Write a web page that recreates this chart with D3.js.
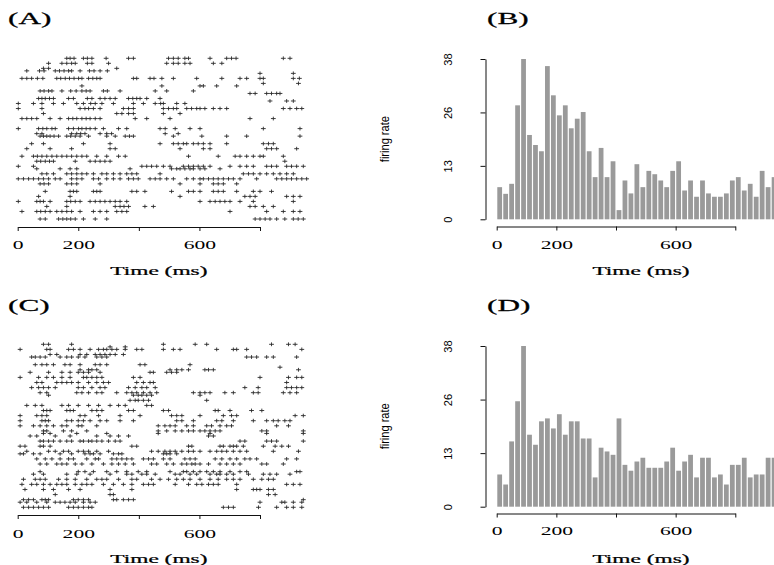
<!DOCTYPE html>
<html>
<head>
<meta charset="utf-8">
<script src="https://cdn.jsdelivr.net/npm/d3@7"></script>
<style>body{margin:0;background:#fff}</style>
</head>
<body>
<script>
var binStart = d3.range(0, 940, 20);
var rateB = [7.7, 6.1, 8.5, 27.3, 38.4, 20.2, 17.8, 16.3, 36.7, 29.7, 24.9, 27.3, 21.8, 24.1, 25.7, 16.3,
  10.1, 17.1, 10.1, 13.9, 2.2, 9.3, 6.2, 13.2, 7.7, 11.6, 10.8, 9.3, 7.7, 11.6, 13.9, 6.9,
  9.3, 5.4, 9.3, 6.2, 5.4, 5.4, 6.2, 9.3, 10.1, 6.9, 8.5, 5.4, 11.6, 7.7, 10.1];
var rateD = [7.7, 5.3, 15.6, 25.2, 38.4, 17.2, 14.8, 20.4, 21.1, 18.7, 22.1, 17.2, 20.4, 20.4, 16.3, 16.3,
  7.0, 14.1, 13.2, 12.4, 21.1, 10.0, 8.6, 10.8, 11.7, 9.3, 9.3, 9.3, 10.8, 14.1, 8.6, 10.8,
  12.4, 7.0, 11.7, 11.7, 7.0, 7.7, 5.3, 10.0, 10.0, 11.7, 7.0, 7.7, 7.7, 11.7, 11.7];

var xTicks = [0, 200, 400, 600, 800];
var xTickLabels = ['0', '200', '', '600', ''];
var yTickLabels = ['0', '13', '26', '38'];
var titles = ['(A)', '(B)', '(C)', '(D)'];

// raster rows: [trial, spike times in ms]
var rasterA = [
  [65, [162,173,186,217,230,245,292,366,382,498,514,530,552,564,635,690,706,721,877,899]],
  [63, [102,146,162,178,190,230,245,300,492,514,530,552,569,646,674]],
  [61, [85,102,327]],
  [60, [30,72,87,124,138,153,168,178,206,237,252,272,296]],
  [59, [800,910]],
  [57, [14,30,46,65,83,129,142,157,171,186,201,212,234,248,261,272,382,393,437,450,476,514,591,674,734,756,800,811,910,930]],
  [55, [811,927]],
  [54, [212,476,602,613,657,723]],
  [52, [74,87,102,113,146,175,193,212,226,239,283,296,338,454,492,580]],
  [51, [767,784,822,838,855,866]],
  [49, [69,80,91,105,118,168,184,230,245,272,288,305,322,366,380,393,404,426,470]],
  [48, [833,888,910]],
  [47, [2,52,80,118,151,195,217,241,256,278,316,382,415,454,472,481,525,552]],
  [45, [2,80,206,222,234,250,272,349,366,382,481,498,514,525,558,574,591,602,618,646,668,690,877,899,921,938]],
  [43, [85,327,344,366,382,481,536]],
  [41, [14,30,46,63,107,140,168,182,195,212,226,239,256,272,388,426,503,767,844]],
  [37, [2,69,83,96,113,124,168,184,201,212,226,239,256,283,333,360,470,487,520,569,602,811,932]],
  [35, [63,80,178,195,208,222,272,294,310,487,530]],
  [34, [74,85,96,107,120,135,162,175,190,206,234,294,322,355,369,382,514,608,690,756,932]],
  [31, [46,85,217,305,470,514,530,547,558,580,596,613,635,690,811,828,844]],
  [29, [30,107,178,305,322,536,613,635,822,838,855,921]],
  [26, [14,52,65,80,96,113,129,146,162,178,195,212,228,261,294,333,355,564,662,718,734,756,778,800,811,877]],
  [24, [63,76,91,105,118,190,239,256,272,288,305,882]],
  [22, [2,52,410,426,442,459,481,503,547,564,580,596,613,635,701,734,756,778,822,838,855,888,904,921,943]],
  [21, [63,140,173,195,371,508,525,536,552,569,580,602,618,668]],
  [19, [80,96,118,162,178,195,212,228,250,278,294,316,338,360,377,393,470,745,762,778,800,822,844,866,888,910]],
  [17, [2,19,36,52,69,85,102,124,140,178,195,212,250,267,294,316,338,366,382,398,437,454,470,492,514,558,580,602,613,630,646,662,679,696,712,734,789,855,872,888,904,921,938,954]],
  [15, [74,87,102,162,178,195,272,536,602,646,662,679,723]],
  [12, [91,173,184,195,250,261,272,377,393,420,508,564,580,602,646,662,679,723,778,800,838]],
  [10, [69,173,536,750,767,784,888,910,932]],
  [8, [2,63,74,85,107,162,175,190,206,239,256,272,288,305,322,338,360,602,635,652,668,684,701,734,778,910]],
  [6, [96,162,322,338,351,366,420,448,767,784,811,844]],
  [4, [14,63,76,91,107,129,146,162,178,206,250,272,294,327,344,360,701,822,877,910,932]],
  [1, [74,91,135,149,162,175,190,217,256,294,784,800,817,833,855,882,910,926,943]]
];

var rasterC = [
  [65, [85,102,178,481,586,624,838,894,916]],
  [64, [305,355]],
  [63, [8,96,107,168,184,206,239,267,283,294,311,327,355,393,410,481,514,536,657,712,723,756,938]],
  [61, [107,129,206,228,256,272,288,305,322,349]],
  [60, [46,58,74,91,140,162,178,200,222,261,278,294,756,772,789,822,844,921]],
  [57, [58,80,96,118,156,173,206,256,272,294,404,420,569]],
  [56, [866]],
  [55, [206,234,245,261,503,525,542,564,618,630,646,927]],
  [54, [41,102,146,173,200,217,234,272,437,448,492,508,525]],
  [52, [8,69,96,118,146,173,217,228,245,261,278,382,404,800,894,921,938]],
  [50, [63,80,129,146,162,178,200,234,261,283,300,393,415,437,448,888]],
  [48, [46,69,85,102,124,200,217,245,272,288,366,388,410,426,454,750,794,888,904,921,938]],
  [46, [74,96,195,212,234,261,278,327,360,377,393,415,437,459,580,602,618,635,684,712,778,794,877,899,921]],
  [45, [102,382,398,410,426,442,602]],
  [43, [371,388,398,415,432,624]],
  [41, [30,58,80,146,168,200,234,267,305,333,355,426,442]],
  [39, [85,96,107,162,173,184,245,261,278,366,382,481,498,652,662,701,772,806]],
  [37, [8,63,80,96,206,222,267,338,404,508,525,542,602,679,706,723,916,943]],
  [35, [8,80,91,102,162,178,200,217,239,272,294,338,382,525,542,580,657,674,712,778,822,844,860,882,899]],
  [33, [8,52,74,96,118,146,162,200,212,261,464,486,503,520,558,580,624,640,668,690,706,855,894]],
  [31, [85,96,151,178,228,464,492,520,542,564,580,602,618,635,652,668,806,822,943]],
  [30, [85,107,195,294,464,635,822,943]],
  [29, [41,63,124,173,261,305,333,366,630,646]],
  [27, [74,85,102,118,140,162,178,206,217,234,245,261,278,300,322,338,734,750,822,838,855,943]],
  [25, [8,24,74,85,107,377,393,564,575,668,679,701,712,723,745,811,850,872,894]],
  [23, [30,102,124,151,168,200,217,234,261,300,442,464,486,503,520,542,564,580,602,635,657,674,690,712,734,756,844,927]],
  [22, [8,19,52,74,140,178,222,239,250,272,316,333,344,481,492,503,525]],
  [20, [63,91,113,140,168,184,228,256,267,311,327,344,360,377,415,432,448,481,503,552,569,586,652,674,701,723,750,767,789,888,921]],
  [18, [74,96,129,146,162,190,212,245,283,311,333,355,382,442,459,492,514,542,558,575,586,602,630,668,690,712,734,806,822,877]],
  [15, [74,200,222,250,294,327,360,398,426,503,547,558,580,602,624,646,668,701,734,756,921,932]],
  [14, [52,85,162,195,239,305,360,377,410,426,454,520,536,569,591,635,657,668,690,712,762,811,833,855,899]],
  [12, [19,58,74,91,135,162,190,228,261,278,294,333,377,393,442,470,498,525,547,569,602,635,662,690,712,734,778,806,828,844]],
  [10, [14,46,63,85,107,129,146,162,190,212,228,245,283,316,349,377,415,432,448,520,564,591,608,630,646,662,723,888,910,932]],
  [8, [24,85,118,168,206,305,377,723,778,789,800,828,844]],
  [6, [124,305,316,828,850]],
  [4, [19,36,52,80,91,102,184,200,217,234,316,327,349,366,382,943]],
  [3, [8,30,63,96,124,140,156,173,190,217,239,256,800,872,882,910,938]],
  [1, [19,36,52,69,85,102,168,184,200,217,234,245,679,696,712,795,855,888,910,938]]
];

var serif = "'Liberation Serif', 'Times New Roman', serif";
var sans = "'Liberation Sans', Arial, sans-serif";
var nTrials = 65;

var svg = d3.select('body').append('svg')
  .attr('width', 774)
  .attr('height', 565)
  .style('display', 'block');

// stretched serif text like the original figure
function hText(g, x, y, txt, size, sx, anchor) {
  g.append('text')
    .attr('transform', `translate(${x},${y}) scale(${sx},1)`)
    .attr('text-anchor', anchor)
    .attr('font-family', serif)
    .attr('font-size', size)
    .attr('fill', '#000')
    .attr('stroke', '#000')
    .attr('stroke-width', 0.25)
    .text(txt);
}

function xAxis(g, x, y, labelY) {
  var ax = g.append('g')
    .attr('transform', `translate(0,${y})`)
    .call(d3.axisBottom(x).tickValues(xTicks).tickSize(4).tickSizeOuter(0)
      .tickFormat((d, i) => xTickLabels[i]));
  ax.select('.domain').attr('stroke', '#111');
  ax.selectAll('line').attr('stroke', '#111');
  ax.selectAll('text')
    .attr('y', labelY - y).attr('dy', 0)
    .attr('transform', 'scale(1.6,1)')
    .attr('font-family', serif)
    .attr('font-size', 13.5)
    .attr('fill', '#000');
}

function rasterPanel(rows, top, bottom, axisY, title, titleY, tickY, labY) {
  var g = svg.append('g');
  var x = d3.scaleLinear().domain([0, 800]).range([17.7, 260]);
  var y = d3.scaleLinear().domain([1, nTrials]).range([bottom, top]);
  var spikes = [];
  rows.forEach(r => r[1].forEach(t => spikes.push({trial: r[0], t: t})));
  g.append('g').selectAll('path')
    .data(spikes)
    .enter()
      .append('path')
      .attr('transform', d => `translate(${x(d.t)},${y(d.trial)})`)
      .attr('d', 'M-2.4,0H2.4M0,-1.9V1.9')
      .attr('stroke', '#2a2a2a')
      .attr('stroke-width', 0.9)
      .attr('fill', 'none');
  xAxis(g, x, axisY, tickY);
  hText(g, 8, titleY, title, 16, 1.95, 'start');
  hText(g, (x(0) + x(800)) / 2 + 20, labY, 'Time (ms)', 13, 1.8, 'middle');
}

function histPanel(rates, top, bottom, axisY, title, titleY, tickY, labY) {
  var g = svg.append('g');
  var x = d3.scaleLinear().domain([0, 800]).range([496.7, 735.3]);
  var ymax = d3.max(rates);
  var y = d3.scaleLinear().domain([0, ymax]).range([bottom, top]);
  var bw = x(20) - x(0);
  g.append('g').selectAll('rect')
    .data(rates)
    .enter()
      .append('rect')
      .attr('x', (d, i) => x(binStart[i]) + bw * 0.1)
      .attr('y', d => y(d))
      .attr('width', bw * 0.8)
      .attr('height', d => y(0) - y(d))
      .style('fill', '#9a9a9a');
  var yTicks = [0, ymax / 3, ymax * 2 / 3, ymax];
  var ay = g.append('g')
    .attr('transform', 'translate(485.5,0)')
    .call(d3.axisLeft(y).tickValues(yTicks).tickSize(5).tickSizeOuter(0)
      .tickFormat((d, i) => yTickLabels[i]));
  ay.select('.domain').attr('stroke', '#111');
  ay.selectAll('line').attr('stroke', '#111');
  ay.selectAll('text')
    .attr('x', 0).attr('dy', 0)
    .attr('transform', 'translate(-34,0) rotate(-90)')
    .attr('text-anchor', 'middle')
    .attr('font-family', sans)
    .attr('font-size', 11)
    .attr('fill', '#000');
  g.append('text')
    .attr('transform', `translate(389,${(top + bottom) / 2}) rotate(-90)`)
    .attr('text-anchor', 'middle')
    .attr('font-family', sans)
    .attr('font-size', 13)
    .attr('textLength', 46)
    .attr('lengthAdjust', 'spacingAndGlyphs')
    .attr('fill', '#000')
    .text('firing rate');
  xAxis(g, x, axisY, tickY);
  hText(g, 487, titleY, title, 16, 1.95, 'start');
  hText(g, 641, labY, 'Time (ms)', 13, 1.8, 'middle');
}

rasterPanel(rasterA, 58.3, 219, 227, titles[0], 24, 249, 275);
histPanel(rateB, 59, 219.3, 226.5, titles[1], 24, 249, 275);
rasterPanel(rasterC, 344.3, 507.3, 515, titles[2], 311, 538, 563);
histPanel(rateD, 346, 506.7, 513.5, titles[3], 311, 535.5, 563);
</script>
</body>
</html>
